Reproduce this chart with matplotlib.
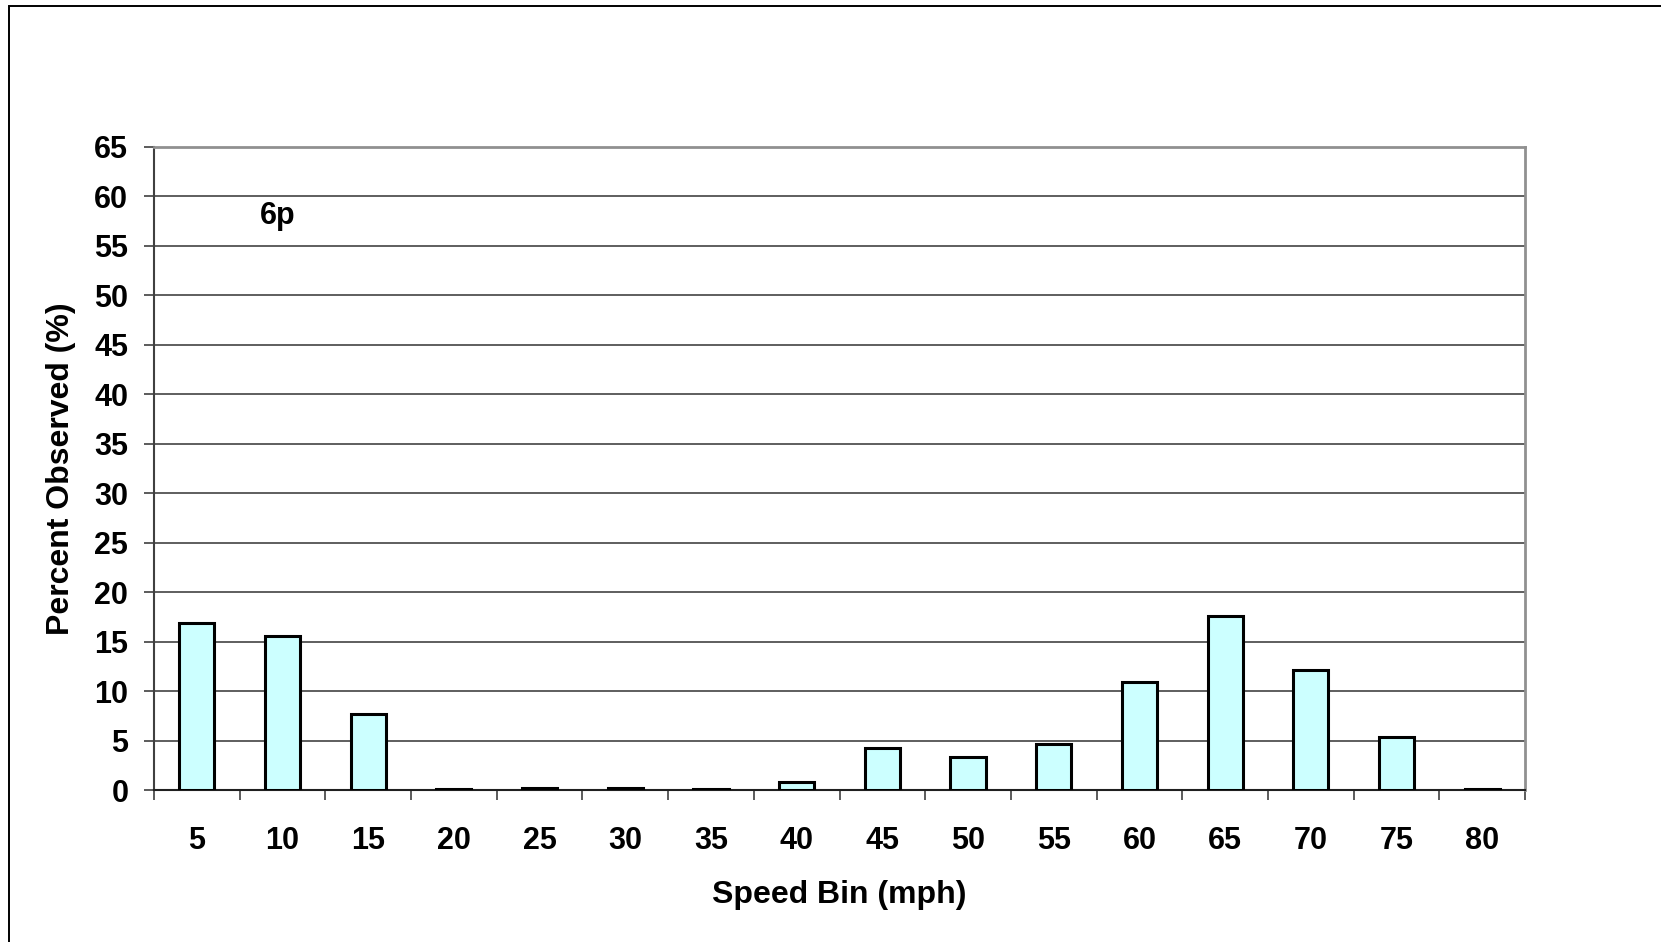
import matplotlib
matplotlib.use("Agg")
import matplotlib.pyplot as plt
from matplotlib.patches import Rectangle
from matplotlib.ticker import FixedLocator, MultipleLocator
import numpy as np

# Speed distribution, share of observations per 5 mph bin
speed_bins = ["5", "10", "15", "20", "25", "30", "35", "40",
              "45", "50", "55", "60", "65", "70", "75", "80"]
percent_observed = [16.9, 15.6, 7.7, 0.1, 0.2, 0.2, 0.1, 0.8,
                    4.3, 3.4, 4.7, 10.9, 17.6, 12.2, 5.4, 0.1]
panel_label = "6p"

plt.rcParams["font.family"] = ["Liberation Sans", "DejaVu Sans"]
plt.rcParams["font.weight"] = "bold"

W, H, DPI = 1661, 942, 100
fig = plt.figure(figsize=(W / DPI, H / DPI), dpi=DPI)
fig.patch.set_facecolor("white")

# outer chart frame (left and top edges visible)
fig.add_artist(Rectangle((9 / W, -0.2), 1.5, 1.2 - 6 / H,
                         transform=fig.transFigure, fill=False,
                         edgecolor="black", linewidth=1.4))

left, right, top, bottom = 154 / W, 1525 / W, 1 - 147 / H, 1 - 790.3 / H
ax = fig.add_axes([left, bottom, right - left, top - bottom])

x = np.arange(len(speed_bins))
ax.bar(x, percent_observed, width=0.41, color="#CCFFFF",
       edgecolor="black", linewidth=2.2, zorder=3)

ax.set_xlim(-0.5, len(speed_bins) - 0.5)
ax.set_ylim(0, 65)

ax.yaxis.set_major_locator(MultipleLocator(5))
ax.grid(axis="y", color="#333333", linewidth=1.1, zorder=0)
ax.set_axisbelow(True)

ax.set_xticks(x)
ax.set_xticklabels(speed_bins)
ax.xaxis.set_minor_locator(FixedLocator(np.arange(-0.5, len(speed_bins), 1.0)))
ax.tick_params(axis="x", which="major", length=0, pad=26.0, labelsize=22)
ax.tick_params(axis="x", which="minor", length=7.5, width=1.2,
               color="#404040", direction="out")
ax.tick_params(axis="y", which="major", length=7.5, width=1.2,
               color="#404040", direction="out", pad=11.0, labelsize=22)
for lbl in ax.get_xticklabels() + ax.get_yticklabels():
    lbl.set_fontweight("bold")

for side in ("top", "right"):
    ax.spines[side].set_color("#909090")
    ax.spines[side].set_linewidth(2.0)
ax.spines["left"].set_color("#404040")
ax.spines["left"].set_linewidth(1.5)
ax.spines["bottom"].set_color("#202020")
ax.spines["bottom"].set_linewidth(1.5)

ax.set_xlabel("Speed Bin (mph)", fontsize=23, fontweight="bold", labelpad=17)
ax.set_ylabel("Percent Observed (%)", fontsize=23, fontweight="bold", labelpad=13)

ax.text(0.94, 57.2, panel_label, fontsize=22, fontweight="bold",
        ha="center", va="baseline")

fig.savefig("out.png", dpi=DPI)
